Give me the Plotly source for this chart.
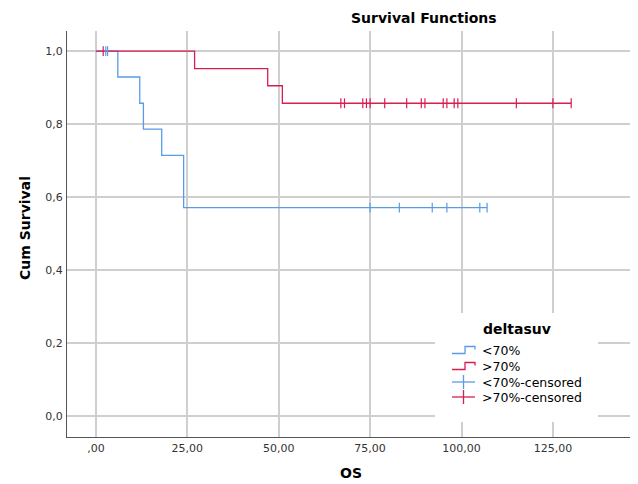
import plotly.graph_objects as go

# ---- data ----
blue_times = [0, 6, 12, 13, 18, 24, 107]
blue_surv = [1.0, 0.929, 0.857, 0.786, 0.714, 0.571, 0.571]
red_times = [0, 27, 47, 51, 130]
red_surv = [1.0, 0.952, 0.905, 0.857, 0.857]
blue_cens_t = [2.7, 3.2, 75, 83, 92, 96, 105, 107]
blue_cens_s = [1.0, 1.0, 0.571, 0.571, 0.571, 0.571, 0.571, 0.571]
red_cens_t = [2, 67, 68, 73, 74, 75, 79, 85, 89, 90, 95, 96, 98, 99, 115, 125, 130]
red_cens_s = [1.0] + [0.857] * 16
x_tickvals = [0, 25, 50, 75, 100, 125]
x_ticktext = [",00", "25,00", "50,00", "75,00", "100,00", "125,00"]
y_tickvals = [0, 0.2, 0.4, 0.6, 0.8, 1.0]
y_ticktext = ["0,0", "0,2", "0,4", "0,6", "0,8", "1,0"]
legend_title = "deltasuv"
legend_labels = ["<70%", ">70%", "<70%-censored", ">70%-censored"]

BLUE = "#5a9be8"
RED = "#d81e50"
FONT = "DejaVu Sans"

OFF = 8  # browser body margin
W, H = 638 - OFF, 484 - OFF
L, R, T, B = 67 - OFF, 1, 31 - OFF, 47
PW, PH = W - L - R, H - T - B


def px(xp):
    return (xp - OFF - L) / PW


def py(yp):
    return (H - B - (yp - OFF)) / PH


fig = go.Figure()
fig.add_trace(go.Scatter(x=blue_times, y=blue_surv, mode="lines", line_shape="hv",
                         line=dict(color=BLUE, width=1.3), showlegend=False))
fig.add_trace(go.Scatter(x=red_times, y=red_surv, mode="lines", line_shape="hv",
                         line=dict(color=RED, width=1.3), showlegend=False))
fig.add_trace(go.Scatter(x=blue_cens_t, y=blue_cens_s, mode="markers",
                         marker=dict(symbol="line-ns", size=7, line=dict(color=BLUE, width=1.2)),
                         showlegend=False))
fig.add_trace(go.Scatter(x=red_cens_t, y=red_cens_s, mode="markers",
                         marker=dict(symbol="line-ns", size=7, line=dict(color=RED, width=1.2)),
                         showlegend=False))

shapes = []
shapes.append(dict(type="rect", xref="paper", yref="paper", x0=px(435), x1=px(598),
                   y0=py(422), y1=py(313), fillcolor="white", line=dict(width=0), layer="above"))


def path(pts):
    return "M " + " L ".join(f"{px(a):.5f},{py(b):.5f}" for a, b in pts)


ys = [350, 366, 382, 397]
colors = [BLUE, RED, BLUE, RED]
for i in range(2):
    yc = ys[i]
    pts = [(452, yc + 3.5), (465, yc + 3.5), (465, yc - 3.5), (475, yc - 3.5), (475, yc - 0.5)]
    shapes.append(dict(type="path", xref="paper", yref="paper", path=path(pts),
                       line=dict(color=colors[i], width=1.3), layer="above"))
for i in range(2, 4):
    yc = ys[i]
    shapes.append(dict(type="line", xref="paper", yref="paper", x0=px(452), x1=px(475),
                       y0=py(yc), y1=py(yc), line=dict(color=colors[i], width=1.3), layer="above"))
    shapes.append(dict(type="line", xref="paper", yref="paper", x0=px(463.5), x1=px(463.5),
                       y0=py(yc - 7), y1=py(yc + 7), line=dict(color=colors[i], width=1.3), layer="above"))


def ann(text, x, y, size, xanchor="center", angle=0):
    return dict(text=text, x=px(x), y=py(y), xref="paper", yref="paper",
                xanchor=xanchor, yanchor="middle", showarrow=False, textangle=angle,
                font=dict(family=FONT, size=size, color="black"))


annotations = [
    ann("<b>Survival Functions</b>", 424, 18, 14),
    ann("<b>Cum Survival</b>", 25, 228, 14, angle=-90),
    ann("<b>OS</b>", 351, 473, 14),
    ann("<b>" + legend_title + "</b>", 517, 329, 14),
]
for i, lab in enumerate(legend_labels):
    annotations.append(ann(lab, 480, ys[i], 12.5, xanchor="left"))

fig.update_layout(
    width=W, height=H,
    margin=dict(l=L, r=R, t=T, b=B, pad=0),
    paper_bgcolor="white", plot_bgcolor="white",
    font=dict(family=FONT, size=11, color="#333"),
    shapes=shapes, annotations=annotations,
    showlegend=False,
    xaxis=dict(range=[-7.9, 148], tickvals=x_tickvals, ticktext=x_ticktext,
               showgrid=True, gridcolor="#cfcfcf", gridwidth=1.5, zeroline=False,
               showline=True, linecolor="#555", linewidth=1.2, ticks="", ticklabelstandoff=1),
    yaxis=dict(range=[-0.0575, 1.055], tickvals=y_tickvals, ticktext=y_ticktext,
               showgrid=True, gridcolor="#cfcfcf", gridwidth=1.5, zeroline=False,
               showline=True, linecolor="#555", linewidth=1.2, ticks="", ticklabelstandoff=1),
)

fig.write_html("out.html")
